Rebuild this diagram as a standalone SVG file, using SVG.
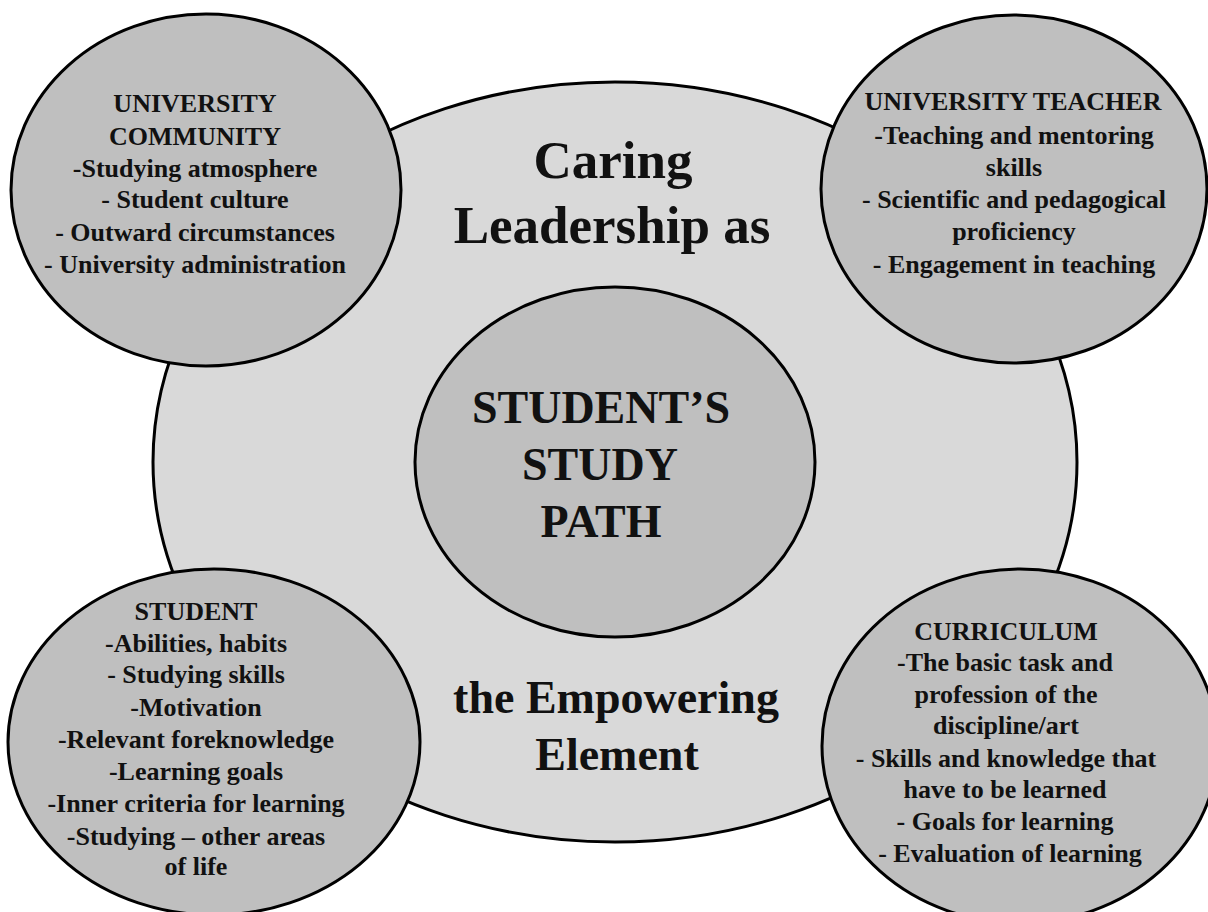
<svg xmlns="http://www.w3.org/2000/svg" width="1208" height="912" viewBox="0 0 1208 912">
  <style>
    .bg { fill: #d9d9d9; stroke: #000; stroke-width: 3; }
    .node { fill: #bfbfbf; stroke: #000; stroke-width: 3; }
    text { font-family: "Liberation Serif", "Times New Roman", serif; font-weight: bold; fill: #111; text-anchor: middle; }
    .s { font-size: 26px; }
    .title { font-size: 53px; }
    .sub { font-size: 46px; }
  </style>
  <rect x="0" y="0" width="1208" height="912" fill="#ffffff"/>
  <g id="outer">
    <ellipse class="bg" cx="615" cy="462" rx="462" ry="380"/>
    <text class="title" x="613" y="178">Caring</text>
    <text class="title" x="612" y="243">Leadership as</text>
    <text class="sub" x="616" y="713">the Empowering</text>
    <text class="sub" x="617" y="770">Element</text>
  </g>
  <g id="connectors"></g>
  <g id="center">
    <ellipse class="node" cx="615" cy="462" rx="200" ry="175"/>
    <text class="sub" x="601" y="423">STUDENT’S</text>
    <text class="sub" x="600" y="480">STUDY</text>
    <text class="sub" x="601" y="537">PATH</text>
  </g>
  <g id="university-community">
    <ellipse class="node" cx="206" cy="190" rx="195" ry="176"/>
    <text class="s" x="195" y="112">UNIVERSITY</text>
    <text class="s" x="195" y="145">COMMUNITY</text>
    <text class="s" x="195" y="177">-Studying atmosphere</text>
    <text class="s" x="195" y="208">- Student culture</text>
    <text class="s" x="195" y="241">- Outward circumstances</text>
    <text class="s" x="195" y="273">- University administration</text>
  </g>
  <g id="university-teacher">
    <ellipse class="node" cx="1014" cy="189" rx="193" ry="174"/>
    <text class="s" x="1013" y="110">UNIVERSITY TEACHER</text>
    <text class="s" x="1014" y="144">-Teaching and mentoring</text>
    <text class="s" x="1014" y="176">skills</text>
    <text class="s" x="1014" y="208">- Scientific and pedagogical</text>
    <text class="s" x="1014" y="240">proficiency</text>
    <text class="s" x="1014" y="273">- Engagement in teaching</text>
  </g>
  <g id="student">
    <ellipse class="node" cx="214" cy="742" rx="206" ry="173"/>
    <text class="s" x="196" y="620">STUDENT</text>
    <text class="s" x="196" y="652">-Abilities, habits</text>
    <text class="s" x="196" y="683">- Studying skills</text>
    <text class="s" x="196" y="716">-Motivation</text>
    <text class="s" x="196" y="748">-Relevant foreknowledge</text>
    <text class="s" x="196" y="780">-Learning goals</text>
    <text class="s" x="196" y="812">-Inner criteria  for learning</text>
    <text class="s" x="196" y="845">-Studying – other areas</text>
    <text class="s" x="196" y="875">of life</text>
  </g>
  <g id="curriculum">
    <ellipse class="node" cx="1020" cy="746" rx="198" ry="177"/>
    <text class="s" x="1006" y="640">CURRICULUM</text>
    <text class="s" x="1005" y="671">-The basic task and</text>
    <text class="s" x="1006" y="703">profession of the</text>
    <text class="s" x="1006" y="734">discipline/art</text>
    <text class="s" x="1006" y="767">- Skills and knowledge that</text>
    <text class="s" x="1005" y="798">have to be learned</text>
    <text class="s" x="1005" y="830">- Goals for learning</text>
    <text class="s" x="1010" y="862">- Evaluation of learning</text>
  </g>
</svg>
